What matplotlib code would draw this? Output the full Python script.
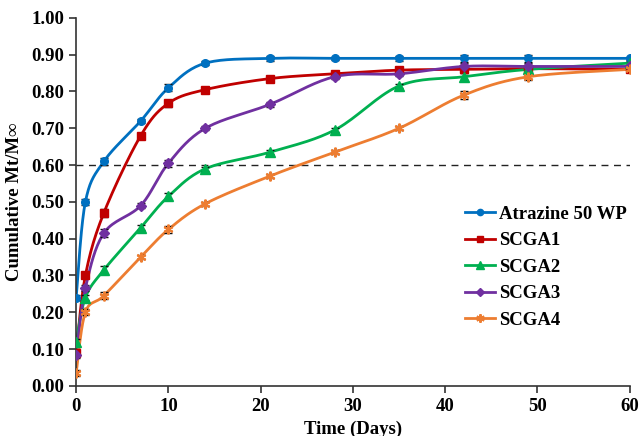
import numpy as np
import matplotlib
matplotlib.use("Agg")
import matplotlib.pyplot as plt

days = [0, 1, 3, 7, 10, 14, 21, 28, 35, 42, 49, 60]
atrazine = [0.24, 0.50, 0.61, 0.72, 0.81, 0.877, 0.89, 0.89, 0.89, 0.89, 0.89, 0.89]
scga1 = [0.09, 0.30, 0.47, 0.68, 0.768, 0.805, 0.835, 0.848, 0.858, 0.86, 0.862, 0.86]
scga2 = [0.12, 0.24, 0.315, 0.43, 0.515, 0.59, 0.635, 0.695, 0.815, 0.84, 0.86, 0.877]
scga3 = [0.085, 0.265, 0.415, 0.49, 0.605, 0.70, 0.765, 0.84, 0.848, 0.868, 0.868, 0.868]
scga4 = [0.035, 0.20, 0.245, 0.35, 0.425, 0.495, 0.57, 0.635, 0.70, 0.79, 0.84, 0.86]
err = [0.008, 0.008, 0.01, 0.006, 0.01, 0.006, 0.006, 0.005, 0.006, 0.01, 0.01, 0.005]

names = ["Atrazine 50 WP", "SCGA1", "SCGA2", "SCGA3", "SCGA4"]
series = [atrazine, scga1, scga2, scga3, scga4]
colors = ["#0070C0", "#C00000", "#00B050", "#7030A0", "#ED7D31"]
markers = ["o", "s", "^", "D", (6, 2, 0)]
msizes = [5.5, 6, 6.5, 5, 7]

plt.rcParams['font.family'] = ['Liberation Serif', 'DejaVu Serif']


def smooth(x, y, n=20):
    # Catmull-Rom style smoothing through the points (like Excel smoothed lines)
    x = np.asarray(x, float)
    y = np.asarray(y, float)
    xs, ys = [], []
    N = len(x)
    for i in range(N - 1):
        p0 = np.array([x[max(i - 1, 0)], y[max(i - 1, 0)]])
        p1 = np.array([x[i], y[i]])
        p2 = np.array([x[i + 1], y[i + 1]])
        p3 = np.array([x[min(i + 2, N - 1)], y[min(i + 2, N - 1)]])
        t = 1 / 6.0
        c1 = p1 + (p2 - p0) * t
        c2 = p2 - (p3 - p1) * t
        s = np.linspace(0, 1, n)[:, None]
        pts = ((1 - s) ** 3) * p1 + 3 * ((1 - s) ** 2) * s * c1 + 3 * (1 - s) * s ** 2 * c2 + s ** 3 * p2
        xs.extend(pts[:, 0])
        ys.extend(pts[:, 1])
    return np.array(xs), np.array(ys)


fig = plt.figure(figsize=(6.4, 4.36), dpi=100)
ax = fig.add_axes([0.119, 0.115, 0.865, 0.844])

ax.axhline(0.6, color="#222222", lw=1, ls=(0, (5, 4)), zorder=1)

for name, y, c, m, ms in zip(names, series, colors, markers, msizes):
    sx, sy = smooth(days, y)
    ax.plot(sx, sy, color=c, lw=2, zorder=2)
    ax.errorbar(days, y, yerr=err, fmt="none", ecolor="#111111", elinewidth=1, capsize=3, zorder=3)
    star = isinstance(m, tuple)
    ax.plot(days, y, ls="none", marker=m, color=c, ms=ms, mew=1.5 if star else 1, zorder=4)
    ax.plot([], [], color=c, lw=2, marker=m, ms=ms - 1, mew=1.5 if star else 1, label=name)

ax.set_xlim(0, 60)
ax.set_ylim(0, 1.0)
ax.set_xticks(range(0, 61, 10))
ax.set_yticks(np.arange(0, 1.01, 0.1))
ax.set_yticklabels([f"{v:.2f}" for v in np.arange(0, 1.01, 0.1)])
for sp in ["top", "right"]:
    ax.spines[sp].set_visible(False)
for sp in ["left", "bottom"]:
    ax.spines[sp].set_color("#333333")
    ax.spines[sp].set_linewidth(1.2)
ax.tick_params(direction="out", length=5, width=1.2, labelsize=13.5, color="#333333")
for lab in ax.get_xticklabels() + ax.get_yticklabels():
    lab.set_fontweight("bold")

ax.set_xlabel("Time (Days)", fontsize=13.5, fontweight="bold", labelpad=4)
ax.set_ylabel("Cumulative Mt/M\u221e", fontsize=13.5, fontweight="bold", labelpad=6)

leg = ax.legend(loc="upper left", bbox_to_anchor=(0.672, 0.535), frameon=False,
                prop={"weight": "bold", "size": 13.5}, handlelength=1.6, handletextpad=0.2,
                labelspacing=0.5)

fig.savefig("out.png", dpi=100)
